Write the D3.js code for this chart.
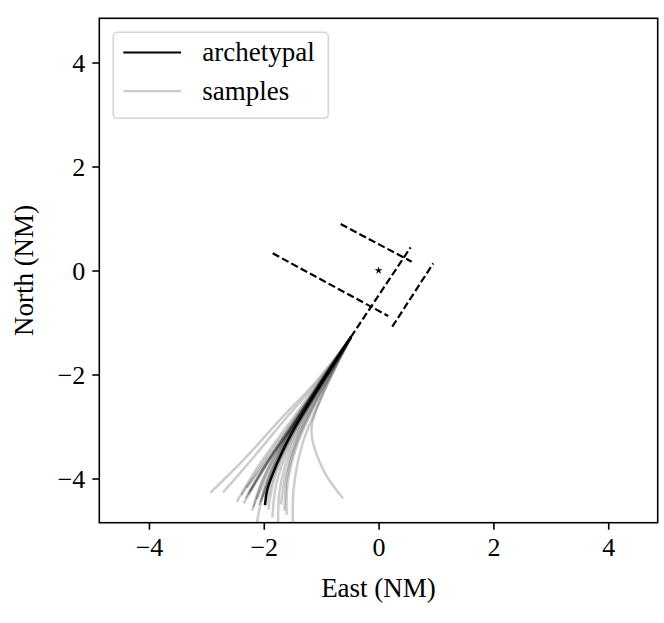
<!DOCTYPE html>
<html>
<head>
<meta charset="utf-8">
<script src="https://cdn.jsdelivr.net/npm/d3@7"></script>
<style>
  html, body { margin: 0; padding: 0; background: #fff; }
  svg { display: block; }
  text { font-family: "Liberation Serif", "Times New Roman", serif; fill: #000; }
</style>
</head>
<body>
<svg id="chart" width="664" height="623"></svg>
<script>
// ---------- data ----------
const xTicks = [-4, -2, 0, 2, 4];
const yTicks = [-4, -2, 0, 2, 4];
const xLabel = "East (NM)";
const yLabel = "North (NM)";
const legendLabels = ["archetypal", "samples"];

// archetypal trajectory (East, North) in NM
const archetypal = [
  [-1.98, -4.51], [-1.94, -4.22], [-1.85, -3.93], [-1.70, -3.54], [-1.52, -3.14],
  [-1.30, -2.72], [-1.05, -2.26], [-0.75, -1.74], [-0.48, -1.28]
];

// sampled trajectories
const samples = [
  [[-2.93, -4.27], [-2.36, -3.65], [-1.70, -2.85], [-1.10, -2.15], [-0.48, -1.28]],
  [[-2.71, -4.27], [-2.20, -3.62], [-1.62, -2.85], [-1.05, -2.13], [-0.48, -1.28]],
  [[-2.47, -4.45], [-2.12, -3.80], [-1.60, -3.00], [-1.05, -2.17], [-0.48, -1.28]],
  [[-2.39, -4.32], [-2.00, -3.68], [-1.52, -2.95], [-1.00, -2.12], [-0.48, -1.28]],
  [[-2.27, -4.30], [-1.95, -3.70], [-1.50, -2.97], [-1.00, -2.13], [-0.48, -1.28]],
  [[-2.30, -4.18], [-1.92, -3.62], [-1.46, -2.92], [-0.98, -2.10], [-0.48, -1.28]],
  [[-2.24, -4.25], [-1.90, -3.66], [-1.46, -2.95], [-0.99, -2.13], [-0.48, -1.28]],
  [[-2.32, -4.38], [-1.98, -3.76], [-1.52, -3.02], [-1.01, -2.16], [-0.48, -1.28]],
  [[-2.18, -4.55], [-1.98, -3.95], [-1.58, -3.15], [-1.05, -2.25], [-0.48, -1.28]],
  [[-2.13, -4.92], [-2.00, -4.25], [-1.68, -3.40], [-1.15, -2.40], [-0.48, -1.28]],
  [[-2.08, -4.51], [-1.90, -3.95], [-1.55, -3.15], [-1.03, -2.22], [-0.48, -1.28]],
  [[-2.12, -4.40], [-1.90, -3.85], [-1.52, -3.08], [-1.02, -2.20], [-0.48, -1.28]],
  [[-2.05, -4.45], [-1.86, -3.88], [-1.50, -3.10], [-1.01, -2.21], [-0.48, -1.28]],
  [[-2.00, -4.35], [-1.80, -3.80], [-1.45, -3.05], [-0.98, -2.18], [-0.48, -1.28]],
  [[-2.35, -4.48], [-2.05, -3.90], [-1.60, -3.10], [-1.06, -2.22], [-0.48, -1.28]],
  [[-2.20, -4.62], [-2.02, -4.02], [-1.62, -3.20], [-1.07, -2.26], [-0.48, -1.28]],
  [[-1.92, -4.60], [-1.82, -4.02], [-1.52, -3.22], [-1.03, -2.27], [-0.48, -1.28]],
  [[-1.96, -4.52], [-1.84, -3.98], [-1.52, -3.18], [-1.03, -2.25], [-0.48, -1.28]],
  [[-1.85, -4.75], [-1.78, -4.10], [-1.52, -3.30], [-1.05, -2.32], [-0.48, -1.28]],
  [[-1.75, -4.92], [-1.72, -4.20], [-1.52, -3.40], [-1.08, -2.40], [-0.48, -1.28]],
  [[-1.60, -4.70], [-1.58, -4.05], [-1.40, -3.30], [-1.00, -2.35], [-0.48, -1.28]],
  [[-1.64, -4.62], [-1.60, -4.00], [-1.42, -3.28], [-1.01, -2.34], [-0.48, -1.28]],
  [[-1.70, -4.50], [-1.62, -3.92], [-1.42, -3.22], [-1.00, -2.30], [-0.48, -1.28]],
  [[-1.49, -4.92], [-1.48, -4.20], [-1.33, -3.35], [-0.96, -2.35], [-0.48, -1.28]],
  [[-0.62, -4.38], [-0.96, -3.84], [-1.17, -3.07], [-1.00, -2.45], [-0.75, -1.86], [-0.48, -1.28]]
];

// approach geometry (dashed segments) and target point
const dashedSegments = [
  [[-0.661, 0.894], [0.576, 0.169]],
  [[-1.845, 0.331], [0.168, -0.875]],
  [[-0.482, -1.279], [0.558, 0.446]],
  [[0.238, -1.081], [0.952, 0.138]]
];
const target = [0, 0];

// ---------- drawing ----------
const svg = d3.select("#chart");
const x = d3.scaleLinear().domain([-4.865, 4.862]).range([99.3, 657.7]);
const y = d3.scaleLinear().domain([-4.85, 4.85]).range([522.7, 18.3]);

svg.append("defs").append("clipPath").attr("id", "clip")
  .append("rect")
  .attr("x", x.range()[0]).attr("y", y.range()[1])
  .attr("width", x.range()[1] - x.range()[0])
  .attr("height", y.range()[0] - y.range()[1]);

const plot = svg.append("g").attr("clip-path", "url(#clip)");

const line = d3.line().x(d => x(d[0])).y(d => y(d[1])).curve(d3.curveCatmullRom.alpha(0.5));
const straight = d3.line().x(d => x(d[0])).y(d => y(d[1]));

plot.selectAll("path.sample").data(samples).enter().append("path")
  .attr("class", "sample")
  .attr("d", line)
  .attr("fill", "none")
  .attr("stroke", "#000")
  .attr("stroke-opacity", 0.2)
  .attr("stroke-width", 2.5)
  .attr("stroke-linecap", "butt");

plot.append("path")
  .attr("d", line(archetypal))
  .attr("fill", "none")
  .attr("stroke", "#000")
  .attr("stroke-width", 2.4);

plot.selectAll("path.dash").data(dashedSegments).enter().append("path")
  .attr("class", "dash")
  .attr("d", straight)
  .attr("fill", "none")
  .attr("stroke", "#000")
  .attr("stroke-width", 2.2)
  .attr("stroke-dasharray", "7.4,3.2");

plot.append("path")
  .attr("d", d3.symbol().type(d3.symbolStar).size(18)())
  .attr("transform", `translate(${x(target[0])},${y(target[1])})`)
  .attr("fill", "#000");

// axes
const xAxis = d3.axisBottom(x).tickValues(xTicks).tickSize(7).tickPadding(6)
  .tickFormat(d => d < 0 ? "\u2212" + Math.abs(d) : String(d));
const yAxis = d3.axisLeft(y).tickValues(yTicks).tickSize(7).tickPadding(7)
  .tickFormat(d => d < 0 ? "\u2212" + Math.abs(d) : String(d));

const gx = svg.append("g").attr("transform", `translate(0,${y.range()[0]})`).call(xAxis);
const gy = svg.append("g").attr("transform", `translate(${x.range()[0]},0)`).call(yAxis);
[gx, gy].forEach(g => {
  g.select(".domain").remove();
  g.selectAll(".tick line").attr("stroke", "#000").attr("stroke-width", 1.6);
  g.selectAll(".tick text").attr("font-family", "Liberation Serif, serif").attr("font-size", 26).attr("fill", "#000");
});
gx.selectAll(".tick text").attr("dy", "0.78em");
gy.selectAll(".tick text").attr("dy", "0.34em");

// frame
svg.append("rect")
  .attr("x", x.range()[0]).attr("y", y.range()[1])
  .attr("width", x.range()[1] - x.range()[0])
  .attr("height", y.range()[0] - y.range()[1])
  .attr("fill", "none").attr("stroke", "#000").attr("stroke-width", 1.6);

// axis labels
svg.append("text")
  .attr("x", (x.range()[0] + x.range()[1]) / 2).attr("y", 597)
  .attr("text-anchor", "middle").attr("font-size", 27).text(xLabel);
svg.append("text")
  .attr("transform", `translate(33,${(y.range()[0] + y.range()[1]) / 2}) rotate(-90)`)
  .attr("text-anchor", "middle").attr("font-size", 27).text(yLabel);

// legend
const lg = svg.append("g");
lg.append("rect")
  .attr("x", 113.3).attr("y", 32.3).attr("width", 215).attr("height", 86)
  .attr("rx", 4).attr("ry", 4)
  .attr("fill", "#fff").attr("fill-opacity", 0.8)
  .attr("stroke", "#d6d6d6").attr("stroke-width", 1.6);
const legendStyles = [
  { color: "#000", opacity: 1 },
  { color: "#000", opacity: 0.2 }
];
legendLabels.forEach((lab, i) => {
  const ly = 52.5 + i * 38.7;
  lg.append("line")
    .attr("x1", 123.3).attr("x2", 181).attr("y1", ly).attr("y2", ly)
    .attr("stroke", legendStyles[i].color).attr("stroke-opacity", legendStyles[i].opacity)
    .attr("stroke-width", 2.2);
  lg.append("text")
    .attr("x", 202.3).attr("y", ly).attr("dy", "0.32em")
    .attr("font-size", 27).text(lab);
});
</script>
</body>
</html>
